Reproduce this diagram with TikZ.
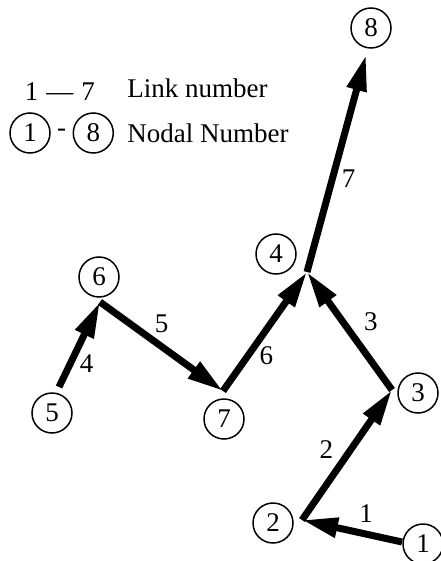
\documentclass[tikz,border=0pt]{standalone}
\usepackage{fontspec}
\setmainfont{Liberation Serif}
\usetikzlibrary{arrows.meta,positioning}

\begin{document}
\begin{tikzpicture}[
  x=0.5pt, y=-0.5pt,
  node distance=2pt,
  nd/.style={draw, circle, line width=0.75pt, minimum size=20pt, inner sep=0pt,
             font=\fontsize{13.5}{16}\selectfont},
  lbl/.style={font=\fontsize{13.5}{16}\selectfont, inner sep=1pt},
  link/.style={->, line width=3.5pt},
  >={Triangle[length=18pt, width=9.5pt]}]
  \useasboundingbox (0,0) rectangle (440,561);
  \node[lbl] (lkey) at (60,92) {1\hspace{4pt}---\hspace{4pt}7};
  \node[lbl, anchor=base west] (ltxt) at (125,98) {Link number};
  \node[nd] (keyA) at (30,133) {1};
  \node[lbl, right=of keyA] (kdash) {-};
  \node[nd, right=of kdash] (keyB) {8};
  \node[lbl, anchor=base west] (ntxt) at (125,143) {Nodal Number};
  \coordinate (j1) at (402,542);
  \coordinate (j2) at (302,520);
  \coordinate (j3) at (392,390);
  \coordinate (j4) at (307,272);
  \coordinate (j5) at (59,387);
  \coordinate (j6) at (100,302);
  \coordinate (j7) at (223,391);
  \coordinate (j8) at (366,55);
  \node[nd] (n1) at (423,544) {1};
  \node[nd] (n2) at (273,523) {2};
  \node[nd] (n3) at (418,393) {3};
  \node[nd] (n4) at (276,254) {4};
  \node[nd] (n5) at (52,413) {5};
  \node[nd] (n6) at (99,277) {6};
  \node[nd] (n7) at (224,419) {7};
  \node[nd] (n8) at (371,28) {8};
  \draw[link] (j1) -- node[lbl, pos=.36, above=3pt] (l1) {1} (j2);
  \draw[link] (j2) -- node[lbl, pos=.54, left=6pt] (l2) {2} (j3);
  \draw[link] (j3) -- node[lbl, pos=.58, right=8pt] (l3) {3} (j4);
  \draw[link] (j5) -- node[lbl, pos=.28, right=2pt] (l4) {4} (j6);
  \draw[link] (j6) -- node[lbl, pos=.5, above=4pt] (l5) {5} (j7);
  \draw[link] (j7) -- node[lbl, pos=.3, right=3pt] (l6) {6} (j4);
  \draw[link] (j4) -- node[lbl, pos=.43, right=2pt] (l7) {7} (j8);
\end{tikzpicture}
\end{document}
